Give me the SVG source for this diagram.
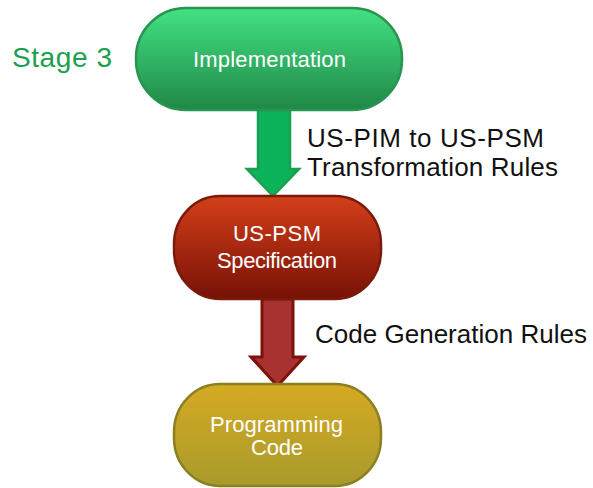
<svg xmlns="http://www.w3.org/2000/svg" width="593" height="488" viewBox="0 0 593 488">
<defs>
<linearGradient id="gGreen" x1="0" y1="0" x2="0" y2="1">
<stop offset="0" stop-color="#43e183"/>
<stop offset="1" stop-color="#1f8846"/>
</linearGradient>
<linearGradient id="gRed" x1="0" y1="0" x2="0" y2="1">
<stop offset="0" stop-color="#d43f1a"/>
<stop offset="1" stop-color="#781106"/>
</linearGradient>
<linearGradient id="gYellow" x1="0" y1="0" x2="0" y2="1">
<stop offset="0" stop-color="#d6aa22"/>
<stop offset="1" stop-color="#a89a2c"/>
</linearGradient>
</defs>
<style>
.node-text{font-family:"Liberation Sans",Arial,sans-serif;fill:#ffffff;text-anchor:middle}
.label{font-family:"Liberation Sans",Arial,sans-serif;fill:#111111}
</style>
<g id="connectors">
<path d="M258,110 L290,110 L290,169 L299,169 L273,196 L247,169 L258,169 Z" fill="#0db35a" stroke="#17a04f" stroke-width="2.5" stroke-linejoin="miter"/>
<path d="M262,299 L293,299 L293,357 L304,357 L277.5,386 L251,357 L262,357 Z" fill="#a83232" stroke="#7e1208" stroke-width="3" stroke-linejoin="miter"/>
</g>
<g id="label-stage">
<text x="12" y="67" font-family="'Liberation Sans',Arial,sans-serif" font-size="28" fill="#1aa04e" textLength="100">Stage 3</text>
</g>
<g id="label-transform">
<text class="label" x="307" y="147" font-size="26" textLength="237">US-PIM to US-PSM</text>
<text class="label" x="307" y="176" font-size="26" textLength="251">Transformation Rules</text>
</g>
<g id="label-codegen">
<text class="label" x="315" y="343" font-size="26" textLength="272">Code Generation Rules</text>
</g>
<g id="node-implementation">
<rect x="136" y="8" width="266" height="102" rx="50" ry="50" fill="url(#gGreen)" stroke="#27944f" stroke-width="2.5"/>
<text class="node-text" x="269.5" y="67" font-size="22" textLength="153">Implementation</text>
</g>
<g id="node-uspsm">
<rect x="174" y="196" width="207" height="103" rx="46" ry="48" fill="url(#gRed)" stroke="#7a1a0a" stroke-width="2.5"/>
<text class="node-text" x="277" y="241" font-size="22" textLength="88">US-PSM</text>
<text class="node-text" x="277" y="268" font-size="22" textLength="120">Specification</text>
</g>
<g id="node-code">
<rect x="174" y="384" width="207" height="102" rx="46" ry="48" fill="url(#gYellow)" stroke="#8a8022" stroke-width="2.5"/>
<text class="node-text" x="276.5" y="432" font-size="22" textLength="133">Programming</text>
<text class="node-text" x="277" y="455" font-size="22" textLength="52">Code</text>
</g>
</svg>
